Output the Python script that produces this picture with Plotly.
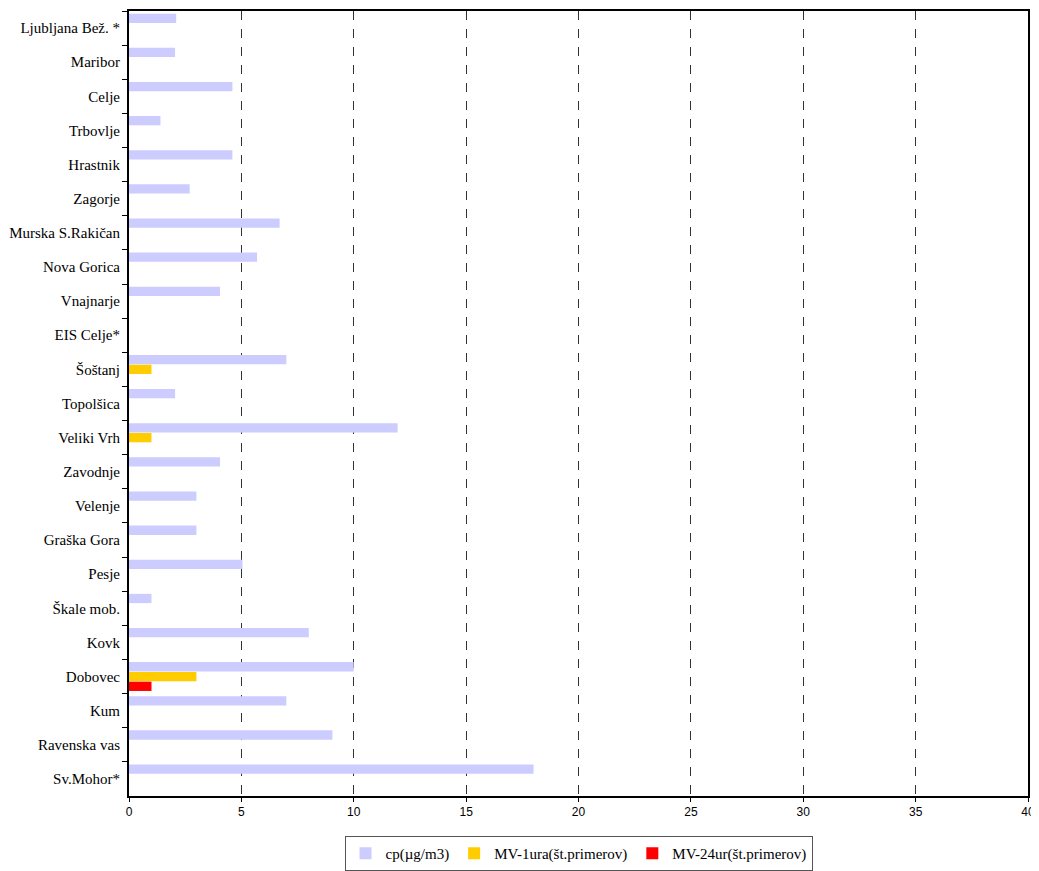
import plotly.graph_objects as go

stations = ["Ljubljana Bež. *", "Maribor", "Celje", "Trbovlje", "Hrastnik", "Zagorje",
            "Murska S.Rakičan", "Nova Gorica", "Vnajnarje", "EIS Celje*", "Šoštanj",
            "Topolšica", "Veliki Vrh", "Zavodnje", "Velenje", "Graška Gora", "Pesje",
            "Škale mob.", "Kovk", "Dobovec", "Kum", "Ravenska vas", "Sv.Mohor*"]

cp = [2.1, 2.05, 4.6, 1.4, 4.6, 2.7, 6.7, 5.7, 4.05, None, 7.0,
      2.05, 11.95, 4.05, 3.0, 3.0, 5.05, 1.0, 8.0, 10.0, 7.0, 9.05, 18.0]
mv1 = [None, None, None, None, None, None, None, None, None, None, 1,
       None, 1, None, None, None, None, None, None, 3, None, None, None]
mv24 = [None] * 19 + [1, None, None, None]

names = ["cp(µg/m3)", "MV-1ura(št.primerov)", "MV-24ur(št.primerov)"]
colors = ["#CCCCFF", "#FFCC00", "#FF0000"]

fig = go.Figure()
for vals, name, col in zip([cp, mv1, mv24], names, colors):
    fig.add_trace(go.Bar(y=stations, x=vals, name=name, orientation="h",
                         marker=dict(color=col, line=dict(width=0))))

# page body has an 8px margin in the browser; compensate so the plot lands where the reference has it
fig.update_layout(
    barmode="group", bargap=0.14, bargroupgap=0.05,
    width=1031, height=863,
    margin=dict(l=121, r=11, t=3, b=75, autoexpand=False),
    plot_bgcolor="white", paper_bgcolor="white",
    font=dict(family="Liberation Serif", size=15, color="black"),
    legend=dict(orientation="h", x=0.5, xanchor="center", y=-0.051, yanchor="top",
                bordercolor="#555555", borderwidth=1,
                font=dict(family="Liberation Serif", size=15),
                traceorder="normal", itemwidth=30),
    xaxis=dict(range=[0, 40], dtick=5, showgrid=True, gridcolor="#333333",
               griddash="dash", gridwidth=1, zeroline=False, automargin=False,
               showline=True, linecolor="black", linewidth=2, mirror=True,
               ticks="outside", ticklen=4, tickcolor="black",
               ticklabeloverflow="allow",
               tickfont=dict(family="Liberation Sans", size=12)),
    yaxis=dict(autorange="reversed", showline=True, linecolor="black", linewidth=2,
               mirror=True, ticks="outside", ticklen=5, tickcolor="black",
               tickson="boundaries", showgrid=False, automargin=False,
               ticklabelstandoff=4,
               tickfont=dict(family="Liberation Serif", size=15)),
)

fig.write_html("out.html")
